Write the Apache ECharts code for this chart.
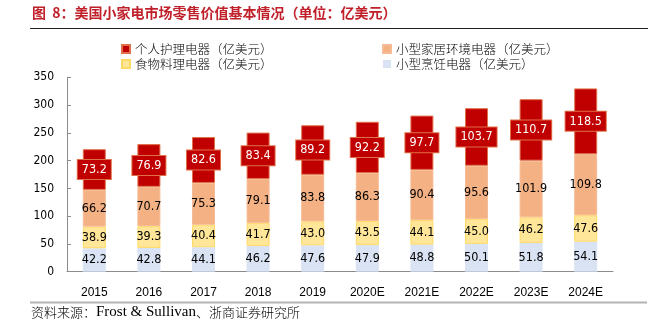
<!DOCTYPE html>
<html>
<head>
<meta charset="utf-8">
<script src="https://cdn.jsdelivr.net/npm/echarts@6/dist/echarts.min.js"></script>
<style>html,body{margin:0;padding:0;background:#fff;}#c{width:660px;height:325px;}</style>
</head>
<body>
<div id="c"></div>
<script>
const categories = ['2015','2016','2017','2018','2019','2020E','2021E','2022E','2023E','2024E'];
const cooking = [42.2, 42.8, 44.1, 46.2, 47.6, 47.9, 48.8, 50.1, 51.8, 54.1];
const foodPrep = [38.9, 39.3, 40.4, 41.7, 43.0, 43.5, 44.1, 45.0, 46.2, 47.6];
const homeEnv = [66.2, 70.7, 75.3, 79.1, 83.8, 86.3, 90.4, 95.6, 101.9, 109.8];
const personalCare = [73.2, 76.9, 82.6, 83.4, 89.2, 92.2, 97.7, 103.7, 110.7, 118.5];
const yTicks = [0, 50, 100, 150, 200, 250, 300, 350];
const names = ['个人护理电器（亿美元）', '小型家居环境电器（亿美元）', '食物料理电器（亿美元）', '小型烹饪电器（亿美元）'];

const chart = echarts.init(document.getElementById('c'), null, {renderer: 'canvas'});
const numFont = '"DejaVu Sans Condensed", "DejaVu Sans", sans-serif';
const cjkFont = '"Noto Sans CJK SC", sans-serif';
const fmt = p => Number(p.value).toFixed(1);
const baseLabel = {show: true, position: 'inside', color: '#000', fontSize: 12.5, fontFamily: numFont, formatter: fmt};
const legendText = {fontFamily: cjkFont, fontSize: 12.5, fontWeight: 300, color: '#000', lineHeight: 13};

chart.setOption({
  animation: false,
  backgroundColor: '#fff',
  grid: {left: 67, right: 47, top: 77.3, bottom: 53.3, containLabel: false},
  legend: [
    {left: 116, top: 37.5, orient: 'vertical', itemWidth: 8, itemHeight: 8, itemGap: 2, icon: 'rect',
     data: [names[0], names[2]], textStyle: legendText, selectedMode: false},
    {left: 377, top: 37.5, orient: 'vertical', itemWidth: 8, itemHeight: 8, itemGap: 2, icon: 'rect',
     data: [names[1], names[3]], textStyle: legendText, selectedMode: false}
  ],
  xAxis: {
    type: 'category', data: categories,
    axisLine: {lineStyle: {color: '#8c8c8c', width: 1}},
    axisTick: {inside: true, length: 5, lineStyle: {color: '#8c8c8c'}},
    axisLabel: {color: '#000', fontSize: 12, fontFamily: '"Liberation Sans Narrow", "Liberation Sans", sans-serif', margin: 15}
  },
  yAxis: {
    type: 'value', min: yTicks[0], max: yTicks[yTicks.length - 1], interval: 50,
    axisLine: {show: true, lineStyle: {color: '#8c8c8c', width: 1}},
    axisTick: {show: true, inside: true, length: 4, lineStyle: {color: '#8c8c8c'}},
    splitLine: {show: false},
    axisLabel: {color: '#000', fontSize: 12, fontFamily: numFont, margin: 13}
  },
  series: [
    {name: names[3], type: 'bar', stack: 't', data: cooking, barWidth: 23,
     itemStyle: {color: '#DAE3F3'}, label: baseLabel},
    {name: names[2], type: 'bar', stack: 't', data: foodPrep, barWidth: 23,
     itemStyle: {color: '#FFE699', borderColor: '#FFD966', borderWidth: 1}, label: baseLabel},
    {name: names[1], type: 'bar', stack: 't', data: homeEnv, barWidth: 23,
     itemStyle: {color: '#F4B183', borderColor: '#F6BC95', borderWidth: 1}, label: baseLabel},
    {name: names[0], type: 'bar', stack: 't', data: personalCare, barWidth: 23,
     itemStyle: {color: '#C00000', borderColor: '#E0704A', borderWidth: 1},
     label: Object.assign({}, baseLabel, {color: '#fff', backgroundColor: '#C00000', padding: [3, 4, 2, 4],
       borderColor: '#E0704A', borderWidth: 1, lineHeight: 14})}
  ],
  graphic: [
    {type: 'text', left: 32, top: 6, style: {text: '图  8：美国小家电市场零售价值基本情况（单位：亿美元）',
      fill: '#C0202A', font: 'bold 14px "Noto Sans CJK SC", sans-serif'}},
    {type: 'line', shape: {x1: 30, y1: 28.5, x2: 648, y2: 28.5}, style: {stroke: '#222', lineWidth: 1}},
    {type: 'line', shape: {x1: 30, y1: 302.5, x2: 647, y2: 302.5}, style: {stroke: '#b4b4b4', lineWidth: 2}},
    {type: 'text', left: 31, top: 305, style: {
      text: '{c|资料来源：}{l|Frost & Sullivan}{c|、浙商证券研究所}',
      rich: {
        c: {fontFamily: cjkFont, fontSize: 13, fontWeight: 300, fill: '#000'},
        l: {fontFamily: '"Liberation Serif", serif', fontSize: 15, fill: '#000'}
      }}}
  ]
});
</script>
</body>
</html>
